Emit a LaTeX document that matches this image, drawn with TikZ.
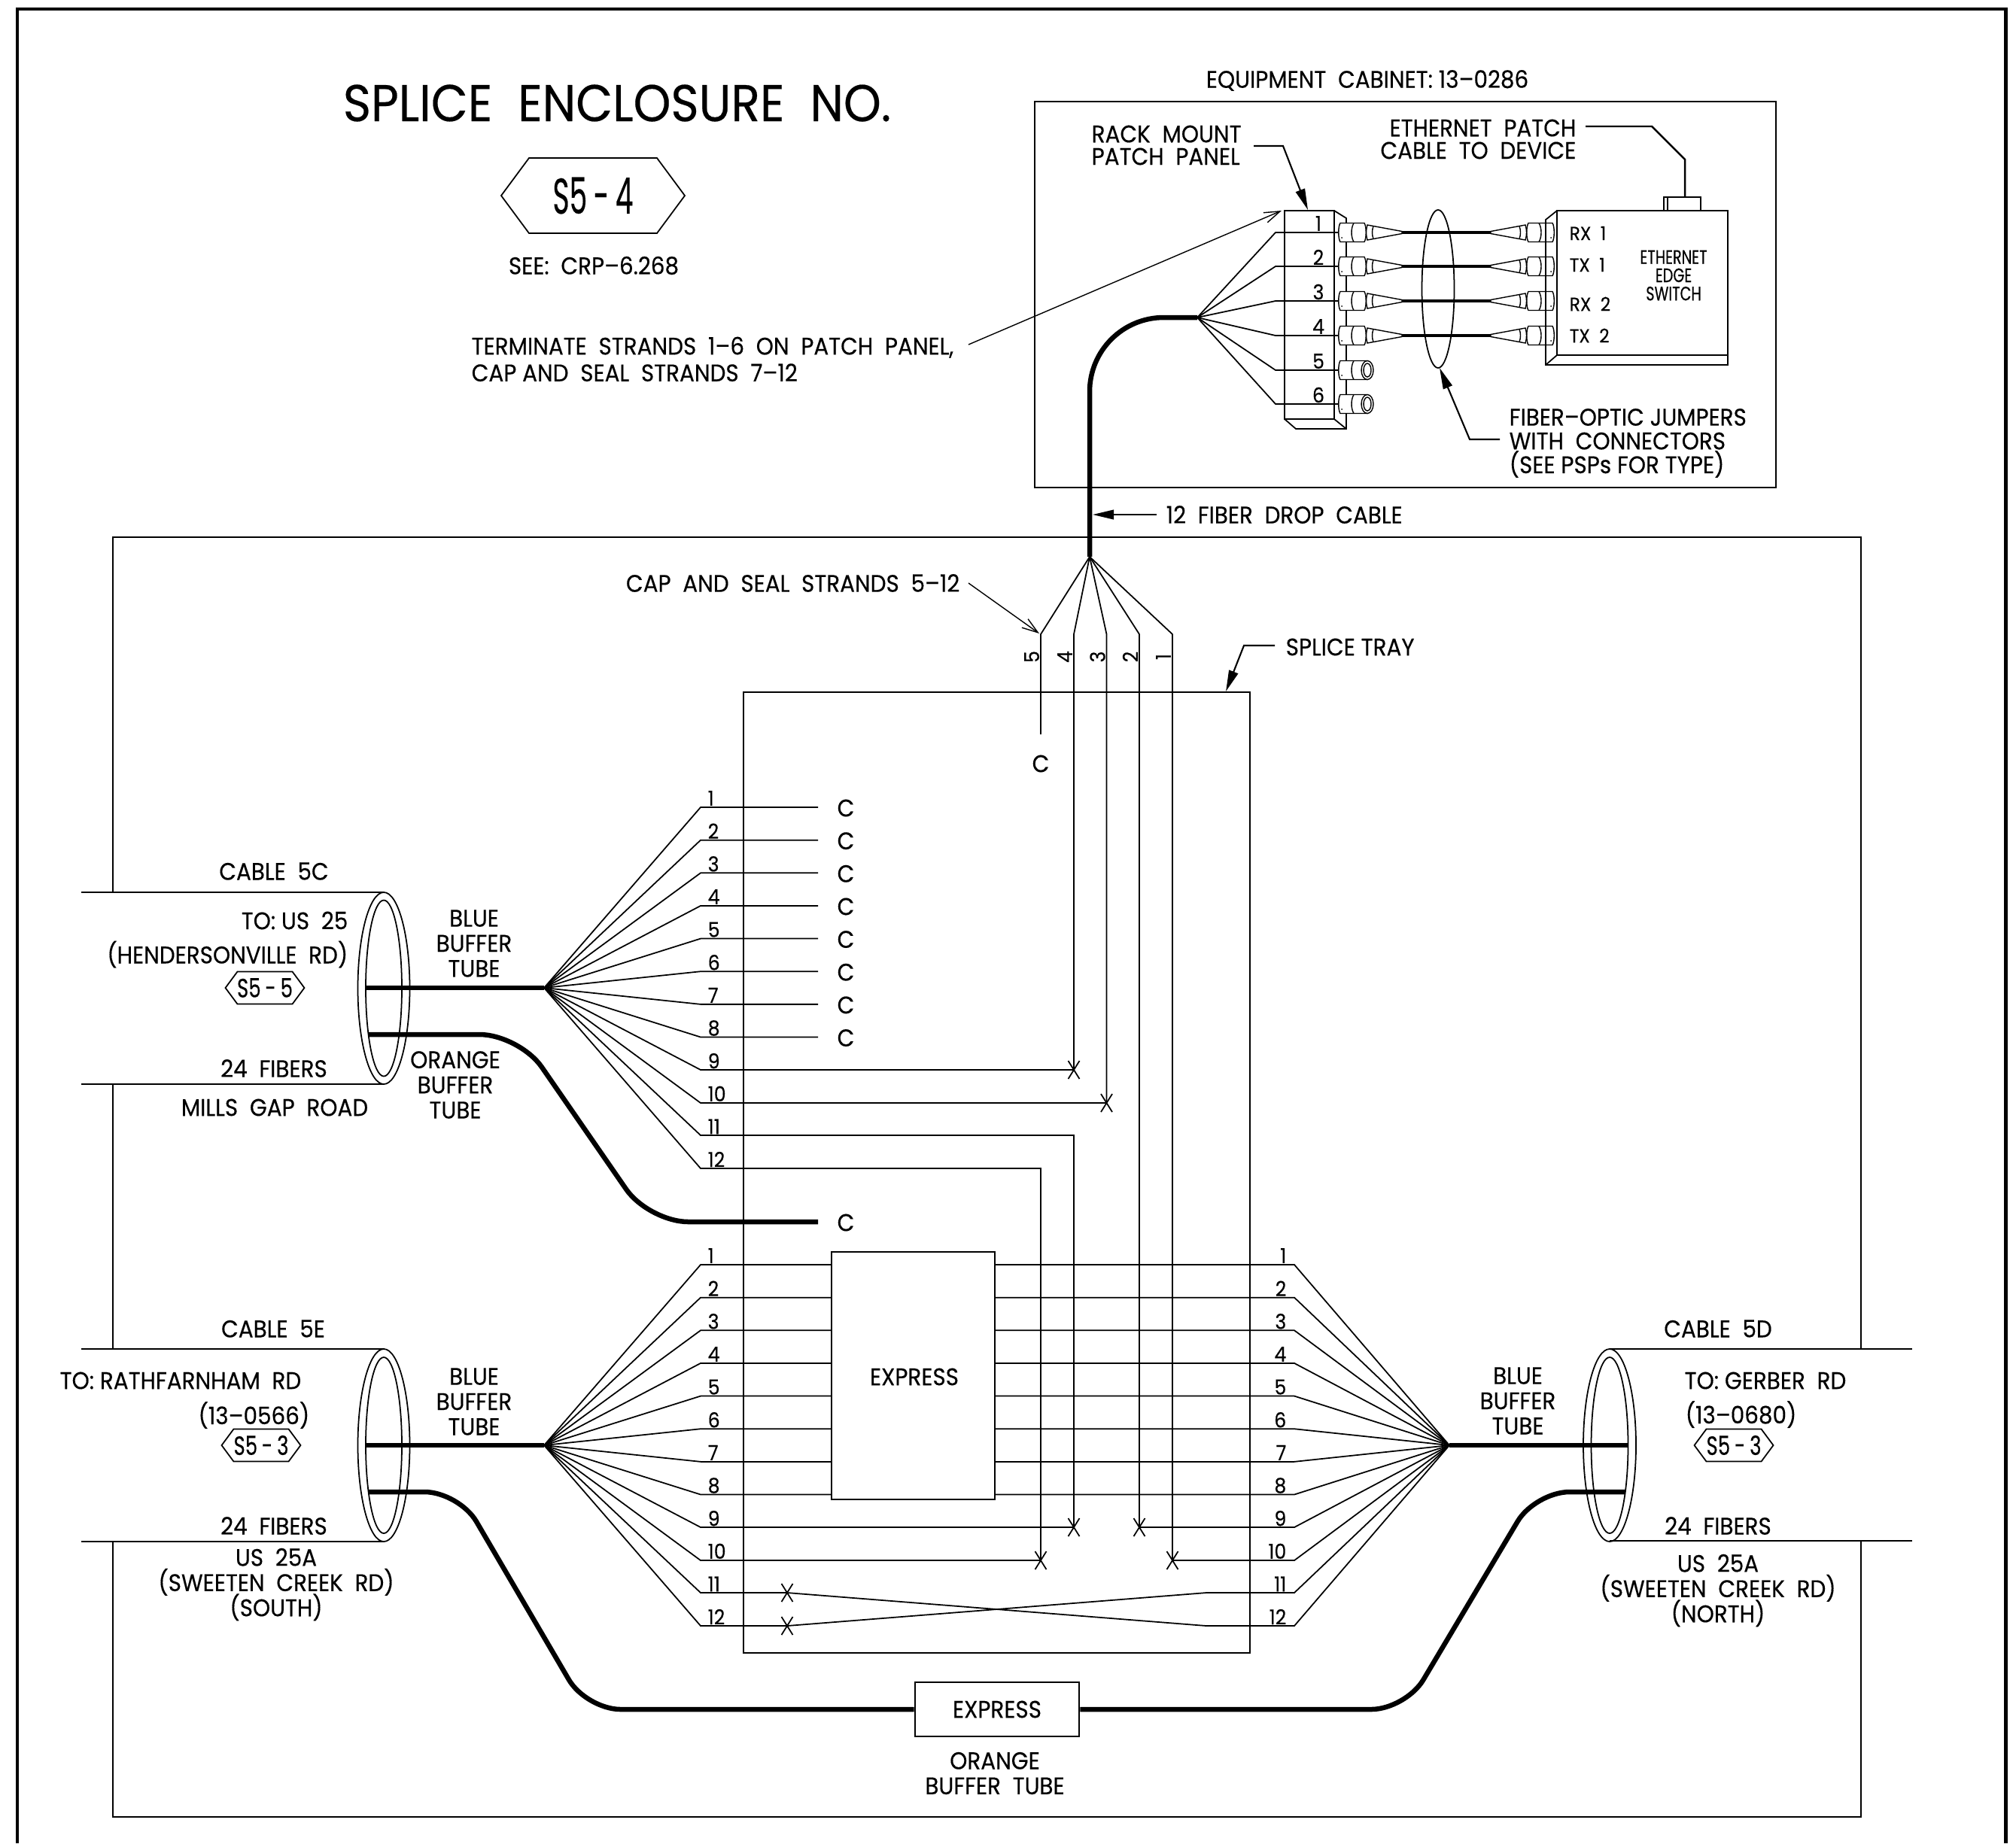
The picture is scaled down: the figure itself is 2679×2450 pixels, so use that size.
\documentclass[tikz,border=0pt]{standalone}
\usepackage{fontspec}
\setmainfont[FakeStretch=0.92,FakeBold=0.3]{Poppins}
\newfontfamily\narrowfont[FakeStretch=0.74,FakeBold=0.3]{Poppins}
\usetikzlibrary{arrows.meta}
\tikzset{
	txt/.style={inner sep=0pt,font=\fontsize{9.1}{9.5}\selectfont,align=center,execute at begin node={\lineskiplimit=-20pt}},
	txts/.style={txt,font=\fontsize{7.2}{7.5}\selectfont},
	numtxt/.style={txt,font=\fontsize{7.8}{8}\selectfont},
	strand/.style={line width=0.5pt},
	plugline/.style={line width=0.4pt},
	tube/.style={line width=1.85pt},
	leader/.style={line width=0.4pt,-{Straight Barb[length=6pt,width=4pt]}},
	pointer/.style={line width=0.6pt,-{Stealth[length=8pt,width=3.6pt,inset=0pt]}},
}
\newcommand{\splicex}[2]{\draw[strand] (#1,#2)+(-7.5,-12) -- +(7.5,12) (#1,#2)+(7.5,-12) -- +(-7.5,12);}
\newcommand{\routehex}[5]{%
	\begin{scope}[shift={(#1,#2)},scale=#3]
		\draw[strand] (-122,0) -- (-85,-50) -- (85,-50) -- (122,0) -- (85,50) -- (-85,50) -- cycle;
	\end{scope}
	\node[inner sep=0pt] (#4) at (#1,#2) {#5};}
\newcommand{\fiberplug}[3]{%
	\begin{scope}[shift={(#1,#2)},xscale=#3]
		\draw[plugline,fill=white] (2,-12.5) -- (34,-12.5) .. controls (37,-8) and (37,8) .. (34,12.5) -- (2,12.5) .. controls (-1,8) and (-1,-8) .. (2,-12.5) -- cycle;
		\draw[plugline] (20,-12.5) .. controls (16,-6) and (16,6) .. (20,12.5);
		\draw[plugline,fill=white] (38,-10) -- (84,-1.5) -- (84,1.5) -- (38,10) .. controls (36,4) and (36,-4) .. (38,-10) -- cycle;
		\draw[plugline] (46,-8.5) .. controls (44,-3) and (44,3) .. (46,8.5);
		\fill (4,7) circle (1);
	\end{scope}}
\newcommand{\capplug}[2]{%
	\begin{scope}[shift={(#1,#2)}]
		\draw[plugline,fill=white] (2,-12.5) -- (38,-12.5) -- (38,12.5) -- (2,12.5) .. controls (-1,8) and (-1,-8) .. (2,-12.5) -- cycle;
		\draw[plugline] (20,-12.5) .. controls (16,-6) and (16,6) .. (20,12.5);
		\draw[plugline,fill=white] (38,0) ellipse [x radius=8,y radius=12.5];
		\draw[plugline] (38,0) ellipse [x radius=5,y radius=9];
		\fill (4,7) circle (1);
	\end{scope}}
\begin{document}
\begin{tikzpicture}[x=0.01cm,y=-0.01cm]
	\useasboundingbox (0,0) rectangle (2679,2450);

	% outer sheet and enclosure
	\draw[line width=1.4pt] (23,2450) -- (23,12) -- (2665,12) -- (2665,2450);
	\draw[strand] (150,1186) -- (150,714) -- (2473,714) -- (2473,1793);
	\draw[strand] (150,1441) -- (150,1793);
	\draw[strand] (150,2049) -- (150,2415) -- (2473,2415) -- (2473,2048);
	\draw[strand] (1375,135) rectangle (2360,648);
	\draw[strand] (988,920) rectangle (1661,2197);

	\node[inner sep=0pt,font=\fontsize{19.6}{20}\selectfont] (title) at (820,137) {SPLICE~~ENCLOSURE~~NO.};
	\routehex{788}{260}{1}{hexmain}{\narrowfont\fontsize{19}{20}\selectfont\scalebox{.76}[1]{S5\,-\,4}}
	\node[txt] (seeref) at (789,353) {SEE:~~CRP--6.268};
	\node[txt,align=left,anchor=north west] (termnote) at (626,447) {TERMINATE~~STRANDS~~1--6~~ON~~PATCH~~PANEL,\\[0.6pt]CAP~AND~~SEAL~~STRANDS~~7--12};
	\node[txt,anchor=east] (capnote) at (1276,775) {CAP~~AND~~SEAL~~STRANDS~~5--12};
	\node[txt] (cabinet) at (1817,107) {EQUIPMENT~~CABINET:~13--0286};

	% drop cable
	\coordinate (panelfan) at (1591,422);
	\coordinate (dropfan) at (1448,740);
	\draw[tube,rounded corners=28pt] (dropfan) -- (1448,422) -- (panelfan);

	% patch panel
	\draw[strand] (1707,280) rectangle (1773,557);
	\draw[strand] (1773,280) -- (1789,290) -- (1789,570) -- (1722,570) -- (1707,557);
	\draw[strand] (1773,557) -- (1789,570);
	\foreach \i/\py in {1/309,2/354,3/400,4/446,5/492,6/537} {
		\draw[strand] (panelfan) -- (1695,\py) -- (1780,\py);
		\node[numtxt] (pn\i) at (1752,\py-12) {\i};
	}
	\foreach \py in {309,354,400,446} {
		\draw[line width=1pt] (1862,\py) -- (1982,\py);
		\fiberplug{1779}{\py}{1}
		\fiberplug{2065}{\py}{-1}
	}
	\capplug{1779}{492}
	\capplug{1779}{537}
	\draw[strand] (1911,384) ellipse [x radius=21.5,y radius=105];

	% switch
	\draw[strand] (2069,280) rectangle (2296,472);
	\draw[strand] (2069,280) -- (2054,292) -- (2054,485) -- (2296,485) -- (2296,472);
	\draw[strand] (2054,485) -- (2069,472);
	\draw[strand] (2211,280) -- (2211,262) -- (2260,262) -- (2260,280);
	\draw[strand] (2216,280) -- (2216,262);
	\coordinate (switchport) at (2239,262);
	\foreach \lab/\ly in {RX~~1/310,TX~~1/352,RX~~2/404,TX~~2/446}
		\node[txts,anchor=west] at (2085,\ly) {\lab};
	\node[txt,font=\narrowfont\fontsize{7.4}{7.5}\selectfont] (switchname) at (2224,366) {ETHERNET\\[-0.6pt]EDGE\\[-0.6pt]SWITCH};

	% labels and pointers in the cabinet
	\node[txt,align=left,anchor=west] (rackmount) at (1450,193) {RACK~~MOUNT\\[-1pt]PATCH~~PANEL};
	\draw[pointer] (1666,194) -- (1705,194) -- (1738,279);
	\node[txt,align=right,anchor=east] (patchcable) at (2095,185) {ETHERNET~~PATCH\\[-1pt]CABLE~~TO~~DEVICE};
	\draw[line width=0.7pt] (2107,168) -- (2195,168) -- (2239,212) -- (switchport);
	\node[txt,align=left,anchor=west] (jumpernote) at (2005,589) {FIBER--OPTIC~JUMPERS\\[-0.5pt]WITH~~CONNECTORS\\[-0.5pt](SEE~PSPs~FOR~TYPE)};
	\draw[pointer] (1993,584) -- (1953,584) -- (1913,489);
	\draw[leader] (1287,458) -- (1703,280);
	\draw[leader] (1287,775) -- (1381,842);
	\node[txt,anchor=west] (dropname) at (1549,684) {12~~FIBER~~DROP~~CABLE};
	\draw[pointer] (1537,684) -- (1452,684);
	\node[txt,anchor=west] (trayname) at (1708,860) {SPLICE~TRAY};
	\draw[pointer] (1694,858) -- (1653,858) -- (1629,919);

	% drop strands into the tray
	\foreach \i/\sx/\sy in {5/1383/976,4/1427/1422,3/1470.5/1466,2/1514/2030,1/1558/2074} {
		\draw[strand] (dropfan) -- (\sx,843) -- (\sx,\sy);
		\node[numtxt,rotate=90] (dn\i) at (\sx-12,873) {\i};
	}
	\node[txt] (capdrop) at (1383,1015) {C};

	% cable 5C strands
	\coordinate (fanc) at (723,1313);
	\foreach \i in {1,...,12} {
		\pgfmathsetmacro\ry{1073+43.64*(\i-1)}
		\ifnum\i<9
			\draw[strand] (fanc) -- (931,\ry) -- (1087,\ry);
			\node[txt] (capc\i) at (1124,\ry+1) {C};
		\fi
		\node[numtxt,anchor=west] (cn\i) at (940,\ry-12) {\i};
	}
	\draw[strand] (fanc) -- (931,1422) -- (1427,1422);
	\splicex{1427}{1422}
	\draw[strand] (fanc) -- (931,1466) -- (1470.5,1466);
	\splicex{1470.5}{1466}
	\draw[strand] (fanc) -- (931,1509) -- (1427,1509) -- (1427,2030);
	\draw[strand] (fanc) -- (931,1553) -- (1383,1553) -- (1383,2074);

	% cable 5E and 5D strands
	\coordinate (fane) at (723,1921);
	\coordinate (fand) at (1926,1921);
	\node[draw,line width=0.7pt,fill=white,minimum width=2.17cm,minimum height=3.29cm,inner sep=0pt] (expresstray) at (1213.5,1828.5) {};
	\node[txt] (expresslabel) at (1215,1830) {EXPRESS};
	\foreach \i in {1,...,12} {
		\pgfmathsetmacro\ry{1681+43.64*(\i-1)}
		\ifnum\i<9
			\draw[strand] (fane) -- (931,\ry) -- (1105,\ry);
			\draw[strand] (fand) -- (1720,\ry) -- (1322,\ry);
		\fi
		\node[numtxt,anchor=west] (en\i) at (940,\ry-12) {\i};
		\node[numtxt,anchor=east] (rn\i) at (1710,\ry-12) {\i};
	}
	\draw[strand] (fane) -- (931,2030) -- (1427,2030);
	\draw[strand] (fand) -- (1720,2030) -- (1514,2030);
	\splicex{1427}{2030}
	\splicex{1514}{2030}
	\draw[strand] (fane) -- (931,2074) -- (1383,2074);
	\draw[strand] (fand) -- (1720,2074) -- (1558,2074);
	\splicex{1383}{2074}
	\splicex{1558}{2074}
	\draw[strand] (fane) -- (931,2117) -- (1046,2117) -- (1603,2161) -- (1720,2161) -- (fand);
	\draw[strand] (fane) -- (931,2161) -- (1046,2161) -- (1603,2117) -- (1720,2117) -- (fand);
	\splicex{1046}{2117}
	\splicex{1046}{2161}

	% cable 5C
	\draw[strand] (108,1186) -- (510,1186);
	\draw[strand] (108,1441) -- (510,1441);
	\draw[strand] (510,1313.5) ellipse [x radius=34.5,y radius=127.5];
	\draw[strand] (510,1313.5) ellipse [x radius=24,y radius=117];
	\draw[tube] (486,1313) -- (fanc);
	\draw[tube,rounded corners=15pt] (489,1375) -- (690,1375) -- (862,1624) -- (1087,1624);
	\node[txt] (capc13) at (1124,1625) {C};
	\node[txt] (cable5c) at (364,1158) {CABLE~~5C};
	\node[txt,align=right,anchor=east] (toc) at (463,1249) {TO:~US~~25\\[3.4pt](HENDERSONVILLE~~RD)};
	\routehex{352}{1313}{.43}{hexc}{\narrowfont\fontsize{10}{10}\selectfont S5\,-\,5}
	\node[txt] (fibc) at (364,1420) {24~~FIBERS};
	\node[txt] (millsgap) at (365,1472) {MILLS~~GAP~~ROAD};
	\node[txt] (bluec) at (630,1254) {BLUE\\BUFFER\\TUBE};
	\node[txt] (orangec) at (605,1442) {ORANGE\\BUFFER\\TUBE};

	% cable 5E
	\draw[strand] (108,1793) -- (511,1793);
	\draw[strand] (108,2049) -- (511,2049);
	\draw[strand] (510,1921) ellipse [x radius=34.5,y radius=128];
	\draw[strand] (510,1921) ellipse [x radius=24,y radius=117];
	\draw[tube] (486,1921) -- (fane);
	\node[draw,line width=0.7pt,minimum width=2.18cm,minimum height=0.72cm,inner sep=0pt,font=\fontsize{9.1}{9.5}\selectfont] (expresstube) at (1325,2272) {EXPRESS};
	\draw[tube,rounded corners=13pt] (490,1983) -- (610,1983) -- (779,2272) -- (expresstube.west);
	\node[txt] (cable5e) at (363,1766) {CABLE~~5E};
	\node[txt,anchor=west] (toe) at (79,1835) {TO:~RATHFARNHAM~~RD};
	\node[txt,anchor=east] (ide) at (412,1881) {(13--0566)};
	\routehex{347}{1921}{.43}{hexe}{\narrowfont\fontsize{10}{10}\selectfont S5\,-\,3}
	\node[txt] (fibe) at (364,2028) {24~~FIBERS};
	\node[txt] (roade) at (367,2106) {US~~25A\\(SWEETEN~~CREEK~~RD)\\(SOUTH)};
	\node[txt] (bluee) at (630,1863) {BLUE\\BUFFER\\TUBE};

	% cable 5D
	\draw[strand] (2139,1793) -- (2541,1793);
	\draw[strand] (2139,2048) -- (2541,2048);
	\draw[strand] (2139,1921) ellipse [x radius=35,y radius=128];
	\draw[strand] (2139,1921) ellipse [x radius=24.5,y radius=117];
	\draw[tube] (fand) -- (2163,1921);
	\draw[tube,rounded corners=13pt] (expresstube.east) -- (1868,2272) -- (2040,1983) -- (2160,1983);
	\node[txt] (cable5d) at (2283,1766) {CABLE~~5D};
	\node[txt,anchor=west] (tod) at (2238,1835) {TO:~GERBER~~RD};
	\node[txt,anchor=west] (idd) at (2239,1880) {(13--0680)};
	\routehex{2304}{1921}{.43}{hexd}{\narrowfont\fontsize{10}{10}\selectfont S5\,-\,3}
	\node[txt] (fibd) at (2283,2028) {24~~FIBERS};
	\node[txt] (roadd) at (2283,2114) {US~~25A\\(SWEETEN~~CREEK~~RD)\\(NORTH)};
	\node[txt] (blued) at (2017,1862) {BLUE\\BUFFER\\TUBE};

	\node[txt] (orangetube) at (1322,2357) {ORANGE\\BUFFER~~TUBE};
\end{tikzpicture}
\end{document}
